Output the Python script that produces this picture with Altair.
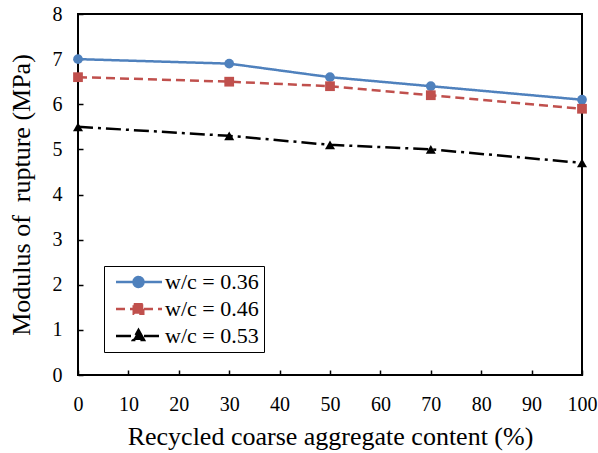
import math
import altair as alt
import pandas as pd

# ---- data ----
x_vals = [0, 30, 50, 70, 100]
wc036 = [7.0, 6.9, 6.6, 6.4, 6.1]
wc046 = [6.6, 6.5, 6.4, 6.2, 5.9]
wc053 = [5.5, 5.3, 5.1, 5.0, 4.7]
labels = ["w/c = 0.36", "w/c = 0.46", "w/c = 0.53"]
x_ticks = list(range(0, 101, 10))
y_ticks = list(range(0, 9))

# ---- styles ----
colors = ["#4F81BD", "#C0504D", "#000000"]
dashes = [[1, 0], [9, 5], [15, 5, 3, 5]]
shapes = ["circle", "square", "triangle-up"]
sizes = [95, 95, 100]
FONT = "'Liberation Serif', 'Times New Roman', Times, serif"

rows = []
for lab, ys in zip(labels, [wc036, wc046, wc053]):
    for xv, yv in zip(x_vals, ys):
        rows.append({"x": xv, "y": yv, "series": lab})
df = pd.DataFrame(rows)

# legend symbols: line + marker drawn as one custom path (unit = 5 px)
cx = 3.7
r = 1.0
circ = "M" + "L".join(
    f"{cx + r*math.cos(2*math.pi*k/16):.3f},{r*math.sin(2*math.pi*k/16):.3f}" for k in range(16)
) + "Z"
line = "M-0.8,0L8.4,0"
sq = f"M{cx-0.95:.2f},-0.95L{cx+0.95:.2f},-0.95L{cx+0.95:.2f},0.95L{cx-0.95:.2f},0.95Z"
tri = f"M{cx:.2f},-1.2L{cx+1.1:.2f},0.8L{cx-1.1:.2f},0.8Z"
legend_paths = [line + circ, line + sq, line + tri]

x_scale = alt.Scale(domain=[0, 100], nice=False, zero=False)
y_scale = alt.Scale(domain=[0, 8], nice=False, zero=False)

x_axis = alt.Axis(values=x_ticks, title="Recycled coarse aggregate content (%)",
                  domain=False, grid=False, tickSize=5, tickColor="black", tickWidth=1.5,
                  offset=-5, labelPadding=19, labelFontSize=20, labelFont=FONT,
                  labelColor="black", labelFlush=False, titleFont=FONT, titleFontSize=26,
                  titleFontWeight="normal", titleColor="black", titlePadding=9)
y_axis = alt.Axis(values=y_ticks, title="Modulus of\u00a0 rupture (MPa)",
                  domain=False, grid=False, tickSize=5, tickColor="black", tickWidth=1.5,
                  offset=-5, labelPadding=16, labelFontSize=20, labelFont=FONT,
                  labelColor="black", labelFlush=False, titleFont=FONT, titleFontSize=26,
                  titleFontWeight="normal", titleColor="black", titlePadding=18)

base = alt.Chart(df)

layers = []
first = True
for lab, col, dash in zip(labels, colors, dashes):
    enc = dict(
        x=alt.X("x:Q", scale=x_scale, axis=x_axis),
        y=alt.Y("y:Q", scale=y_scale, axis=y_axis),
    ) if first else dict(x="x:Q", y="y:Q")
    first = False
    layers.append(
        base.transform_filter(alt.datum.series == lab)
        .mark_line(strokeWidth=2.5, color=col, strokeDash=dash)
        .encode(**enc)
    )

for lab, col, shp, sz in zip(labels, colors, shapes, sizes):
    layers.append(
        base.transform_filter(alt.datum.series == lab)
        .mark_point(shape=shp, filled=True, size=sz, color=col, opacity=1)
        .encode(x="x:Q", y="y:Q")
    )

leg = alt.Legend(orient="none", legendX=26, legendY=252, title=None,
                 padding=5, strokeColor="black", fillColor="white",
                 labelFont=FONT, labelFontSize=22, labelColor="black",
                 labelOffset=34, symbolSize=100, symbolStrokeWidth=2.5,
                 rowPadding=5)

legend_layer = base.mark_point(
    filled=True, opacity=1, strokeWidth=2.5, size=0
).encode(
    x="x:Q", y="y:Q",
    fill=alt.Fill("series:N", scale=alt.Scale(domain=labels, range=colors), legend=leg),
    stroke=alt.Stroke("series:N", scale=alt.Scale(domain=labels, range=colors), legend=leg),
    shape=alt.Shape("series:N", scale=alt.Scale(domain=labels, range=legend_paths), legend=leg),
    strokeDash=alt.StrokeDash("series:N", scale=alt.Scale(domain=labels, range=dashes), legend=leg),
)
layers.append(legend_layer)

chart = alt.layer(*layers).properties(
    width=504, height=361,
    autosize=alt.AutoSizeParams(type="none"),
    padding={"left": 78, "top": 14, "right": 16, "bottom": 78},
    background="white",
).configure_view(stroke="black", strokeWidth=2)

chart.save("out.html", embed_options={"renderer": "svg", "actions": False})
